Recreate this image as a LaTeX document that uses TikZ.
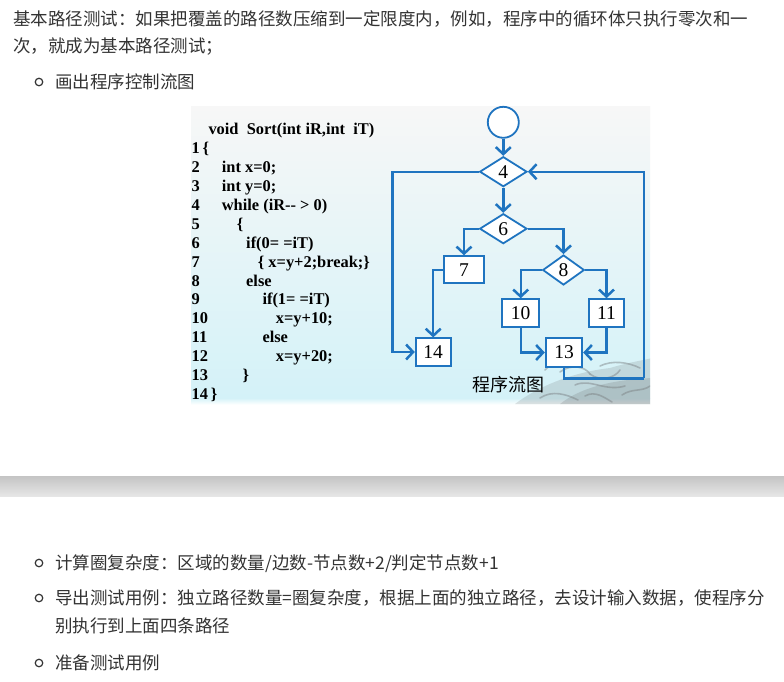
\documentclass[tikz,border=0pt]{standalone}
\usepackage{fontspec}
\setmainfont{Liberation Serif}
\newfontfamily\cjk{Noto Sans CJK SC}
\newfontfamily\codefont{Liberation Serif}
\usetikzlibrary{arrows.meta,shapes.geometric}
\definecolor{flowblue}{RGB}{31,116,192}
\definecolor{txtgray}{RGB}{51,51,51}
\definecolor{bgtop}{RGB}{247,247,247}
\definecolor{bgbot}{RGB}{212,242,248}
\definecolor{bandtop}{RGB}{196,196,196}
\definecolor{bandbot}{RGB}{230,230,230}
\definecolor{dragon}{RGB}{120,125,128}
\tikzset{
  cjktext/.style={anchor=base west,inner sep=0pt,text=txtgray,font=\cjk\fontsize{17.5}{20}\selectfont},
  bulletdot/.style={circle,draw=txtgray,line width=1.2pt,minimum size=7.5pt,inner sep=0pt},
  codeline/.style={anchor=base west,inner sep=0pt,text=black,font=\codefont\bfseries\fontsize{16.4}{18}\selectfont},
  fbox/.style={draw=flowblue,fill=white,line width=1.8pt,inner sep=0pt,font=\fontsize{19.5}{20}\selectfont},
  fdiam/.style={diamond,draw=flowblue,fill=white,line width=1.8pt,inner sep=0pt,font=\fontsize{19.5}{20}\selectfont},
  flow/.style={draw=flowblue,line width=2.4pt,-{Straight Barb[length=7pt,width=15pt,line width=2.5pt]}},
  flowline/.style={draw=flowblue,line width=2.4pt},
  curl/.style={draw=dragon,line width=1.6pt,opacity=0.45,line cap=round},
}
\begin{document}
\begin{tikzpicture}[x=1pt,y=-1pt]
\useasboundingbox (0,0) rectangle (784,681);
\fill[white] (0,0) rectangle (784,681);
% top text
\node[cjktext] (t1) at (13,25.5) {基本路径测试：如果把覆盖的路径数压缩到一定限度内，例如，程序中的循环体只执行零次和一};
\node[cjktext] (t2) at (13,52.5) {次，就成为基本路径测试；};
\node[bulletdot] (b1) at (39,82) {};
\node[cjktext] (t3) at (55,88.5) {画出程序控制流图};
% picture background
\shade[top color=bgtop,bottom color=bgbot] (191,106) rectangle (650,398);
\shade[top color=bgbot,bottom color=white!90!bgbot] (191,398) rectangle (650,404);
% faint ornament (lower right)
\begin{scope}
\clip (191,106) rectangle (650,404);
\fill[dragon,opacity=0.22] (515,404) .. controls (540,385) and (575,372) .. (610,368) .. controls (630,362) and (645,360) .. (652,358) -- (652,404) -- cycle;
\fill[dragon,opacity=0.25] (560,404) .. controls (580,388) and (610,380) .. (652,378) -- (652,404) -- cycle;
\draw[curl] (560,372) .. controls (570,364) and (585,366) .. (590,374);
\draw[curl] (590,374) .. controls (600,382) and (615,378) .. (620,370);
\draw[curl] (575,385) .. controls (590,378) and (605,392) .. (625,386);
\draw[curl] (600,366) .. controls (612,360) and (628,362) .. (640,368);
\draw[curl] (540,398) .. controls (552,390) and (566,394) .. (578,400);
\draw[curl] (622,395) .. controls (632,388) and (642,392) .. (650,386);
\draw[curl] (585,396) .. controls (595,390) and (605,398) .. (612,402);
\draw[curl] (545,370) .. controls (550,364) and (558,362) .. (566,366);
\end{scope}
% code
\node[codeline] (c0) at (208.3,134) {void\ \ Sort(int iR,int\ \ iT)};
\node[codeline] (c1) at (191.5,153) {1\,\{};
\node[codeline] (n2) at (191.5,172) {2};
\node[codeline] (c2) at (221.7,172) {int x=0;};
\node[codeline] (n3) at (191.5,191) {3};
\node[codeline] (c3) at (221.7,191) {int y=0;};
\node[codeline] (n4) at (191.5,210) {4};
\node[codeline] (c4) at (221.7,210) {while (iR-{}- > 0)};
\node[codeline] (n5) at (191.5,229) {5};
\node[codeline] (c5) at (236.7,229) {\{};
\node[codeline] (n6) at (191.5,248) {6};
\node[codeline] (c6) at (246,248) {if(0= =iT)};
\node[codeline] (n7) at (191.5,267) {7};
\node[codeline] (c7) at (257.7,267) {\{ x=y+2;break;\}};
\node[codeline] (n8) at (191.5,286) {8};
\node[codeline] (c8) at (246,286) {else};
\node[codeline] (n9) at (191.5,304.5) {9};
\node[codeline] (c9) at (262.3,304.5) {if(1= =iT)};
\node[codeline] (n10) at (191.5,323) {10};
\node[codeline] (c10) at (275.7,323) {x=y+10;};
\node[codeline] (n11) at (191.5,342) {11};
\node[codeline] (c11) at (262.3,342) {else};
\node[codeline] (n12) at (191.5,361) {12};
\node[codeline] (c12) at (275.7,361) {x=y+20;};
\node[codeline] (n13) at (191.5,380) {13};
\node[codeline] (c13) at (242.3,380) {\}};
\node[codeline] (c14) at (191.5,399) {14\,\}};
% flowchart nodes
\node[circle,draw=flowblue,fill=white,line width=1.8pt,minimum size=31pt,inner sep=0pt] (st) at (503.3,122.3) {};
\node[fdiam,minimum width=47.3pt,minimum height=30pt] (d4) at (503.3,171.7) {4};
\node[fdiam,minimum width=47.3pt,minimum height=30pt] (d6) at (503.3,228.7) {6};
\node[fbox,minimum width=39.7pt,minimum height=27pt] (b7) at (464,269.7) {7};
\node[fdiam,minimum width=41.6pt,minimum height=30pt] (d8) at (563.5,270) {8};
\node[fbox,minimum width=36.7pt,minimum height=27.7pt] (b10) at (520.7,313) {10};
\node[fbox,minimum width=35.6pt,minimum height=27.7pt] (b11) at (606.5,313) {11};
\node[fbox,minimum width=36.6pt,minimum height=28.4pt] (b13) at (564,352.5) {13};
\node[fbox,minimum width=35pt,minimum height=27.4pt] (b14) at (433.2,352) {14};
\coordinate (lc) at (392.3,260);
\coordinate (rc) at (644,378.3);
% connectors
\draw[flow] (st) -- (d4);
\draw[flow] (d4) -- (d6);
\draw[flow] (d6.west) -| (b7.north);
\draw[flow] (d6.east) -| (d8.north);
\draw[flow] (d8.west) -| (b10.north);
\draw[flow] (d8.east) -| (b11.north);
\draw[flow] (b10.south) |- (b13.west);
\draw[flow] (b11.south) |- (b13.east);
\draw[flow] (b7.west) -| (b14.north);
\draw[flowline] (d4.west) -| (lc);
\draw[flow] (lc) |- (b14.west);
\draw[flowline] (b13.south) |- (rc);
\draw[flow] (rc) |- (d4.east);
\node[anchor=center,inner sep=0pt,font=\cjk\fontsize{18}{20}\selectfont] (lab) at (508.7,385) {程序流图};
% separator band
\shade[top color=bandtop,bottom color=bandbot] (0,476) rectangle (784,496);
% bottom bullets
\node[bulletdot] (b2) at (39,563) {};
\node[cjktext] (t4) at (55,569.5) {计算圈复杂度：区域的数量/边数-节点数+2/判定节点数+1};
\node[bulletdot] (b3) at (39,598) {};
\node[cjktext] (t5) at (55,604.5) {导出测试用例：独立路径数量=圈复杂度，根据上面的独立路径，去设计输入数据，使程序分};
\node[cjktext] (t6) at (55,632.5) {别执行到上面四条路径};
\node[bulletdot] (b4) at (39,663) {};
\node[cjktext] (t7) at (55,669.5) {准备测试用例};
\end{tikzpicture}
\end{document}
